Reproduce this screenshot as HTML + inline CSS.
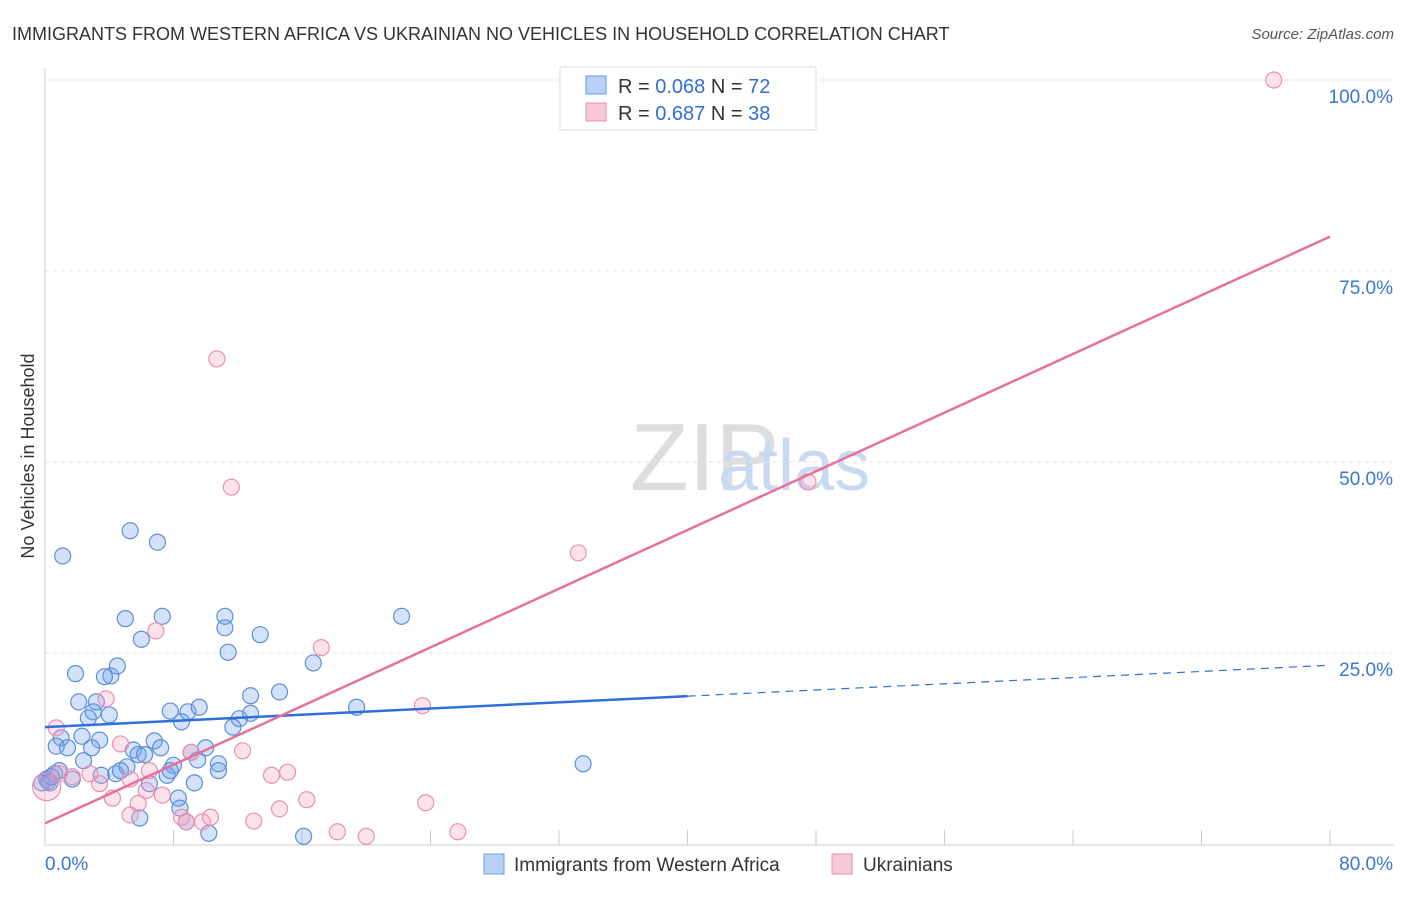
<!DOCTYPE html>
<html><head><meta charset="utf-8">
<style>
body{margin:0;background:#fff;font-family:"Liberation Sans",sans-serif;}
svg text{font-family:"Liberation Sans",sans-serif;}
</style></head>
<body>
<svg id="chart" width="1406" height="892" viewBox="0 0 1406 892">
<text x="12" y="40" font-size="18" fill="#333">IMMIGRANTS FROM WESTERN AFRICA VS UKRAINIAN NO VEHICLES IN HOUSEHOLD CORRELATION CHART</text>
<text x="1394" y="39" font-size="15" fill="#555" font-style="italic" text-anchor="end">Source: ZipAtlas.com</text>
<text x="630" y="490" font-size="96" fill="#ddd" font-family="Liberation Serif">ZIP</text>
<text x="718" y="490" font-size="72" fill="#c8daf2">atlas</text>
<g id="grid"></g>
<g id="axes"></g>
<g id="pts"></g>
<g id="lines"></g>
<text transform="translate(34,456) rotate(-90)" font-size="18" fill="#333" text-anchor="middle">No Vehicles in Household</text>
<g>
<rect x="560" y="67" width="256" height="63" fill="#fff" stroke="#ddd"/>
<rect x="586" y="76" width="20" height="18" fill="#b8d2f5" stroke="#6b9be0"/>
<rect x="586" y="103" width="20" height="18" fill="#f9c8d8" stroke="#e890b0"/>
<text x="618" y="93" font-size="20" fill="#333">R = <tspan fill="#2f6fd6">0.068</tspan>   N = <tspan fill="#2f6fd6">72</tspan></text>
<text x="618" y="120" font-size="20" fill="#333">R =  <tspan fill="#2f6fd6">0.687</tspan>   N = <tspan fill="#2f6fd6">38</tspan></text>
</g>
<g>
<rect x="484" y="854" width="20" height="20" fill="#b8d2f5" stroke="#6b9be0"/>
<text x="514" y="871" font-size="19" fill="#333">Immigrants from Western Africa</text>
<rect x="832" y="854" width="20" height="20" fill="#f9c8d8" stroke="#e890b0"/>
<text x="863" y="871" font-size="19" fill="#333">Ukrainians</text>
</g>
</svg>
<script>
const yTicks=[25,50,75,100];
const yTickLabels=["25.0%","50.0%","75.0%","100.0%"];
const xTickLabels=["0.0%","80.0%"];
const blueX=[1.1,5.3,7.0,5.0,7.3,11.2,11.2,22.2,6.0,13.4,11.4,16.7,1.9,4.5,4.1,3.7,2.1,3.2,3.0,2.7,4.0,7.8,8.9,9.6,8.5,12.8,14.6,12.1,12.8,11.7,19.4,1.0,0.7,1.4,2.3,3.4,2.9,5.5,6.8,7.2,5.8,6.2,9.1,10.0,2.4,5.1,8.0,9.5,10.8,10.8,33.5,0.6,0.1,0.3,1.7,3.5,4.4,7.6,6.5,9.3,8.3,8.4,8.8,10.2,5.9,16.1,0.9,7.8,0.2,4.7,0.4,-0.2];
const blueY=[37.7,41.0,39.5,29.5,29.8,29.8,28.3,29.8,26.8,27.4,25.1,23.7,22.3,23.3,22.0,21.9,18.6,18.6,17.3,16.5,16.9,17.4,17.3,17.9,16.0,19.4,19.9,16.4,17.1,15.3,17.9,13.9,12.8,12.6,14.1,13.6,12.6,12.3,13.5,12.6,11.7,11.7,12.0,12.6,10.9,10.1,10.3,11.0,10.5,9.6,10.5,9.2,8.5,8.0,8.5,9.0,9.2,9.0,7.9,8.0,6.0,4.7,2.9,1.4,3.4,1.0,9.6,9.6,8.2,9.6,8.8,8.0];
const pinkX=[76.5,10.7,11.6,47.5,33.2,6.9,17.2,3.8,23.5,0.7,4.7,9.1,12.3,0.9,1.7,2.8,3.4,4.2,5.3,6.3,7.3,5.8,5.3,8.5,8.8,9.8,10.3,13.0,14.1,15.1,14.6,16.3,18.2,20.0,23.7,25.7,0.1,6.5];
const pinkY=[100,63.5,46.7,47.4,38.1,27.9,25.7,19.0,18.1,15.2,13.1,12.0,12.2,9.2,8.8,9.2,7.9,6.0,8.5,7.0,6.4,5.3,3.8,3.5,2.9,2.9,3.5,3.0,9.0,9.4,4.6,5.8,1.6,1.0,5.4,1.6,7.5,9.6];
const blueSize=blueX.map(()=>8), pinkSize=pinkX.map((v,i)=>i===36?14:8);
const blueLine=[15.3,23.4], pinkLine=[2.7,79.5];
const X=v=>45+v/80*1285, Y=v=>844-v*7.64;
const NS="http://www.w3.org/2000/svg";
function mk(tag,attrs,parent){const e=document.createElementNS(NS,tag);for(const k in attrs)e.setAttribute(k,attrs[k]);document.getElementById(parent).appendChild(e);return e;}
yTicks.forEach((t,i)=>{
 const g=mk('line',{x1:45,x2:1394,y1:Y(t),y2:Y(t),stroke:'#e2e2e2','stroke-dasharray':'4,4'},'grid');
 
 
 const l=mk('text',{x:1393,y:Y(t)+23,'font-size':19,fill:'#3a75d8','text-anchor':'end'},'grid');
 l.textContent=yTickLabels[i];
 
 
});
const ax=mk('line',{x1:45,x2:45,y1:68,y2:845,stroke:'#ccc'},'axes');


const bx=mk('line',{x1:45,x2:1394,y1:845,y2:845,stroke:'#ccc'},'axes');


for(let i=0;i<=10;i++){
 const t=mk('line',{x1:X(i*8),x2:X(i*8),y1:830,y2:845,stroke:'#ccc'},'axes');
 
 
}
[[0,'start',45],[80,'end',1393]].forEach((d,i)=>{
 const l=mk('text',{x:d[2],y:870,'font-size':19,fill:'#3a75d8','text-anchor':d[1]},'axes');
 l.textContent=xTickLabels[i];
 
 
});
blueX.forEach((v,i)=>{
 const c=mk('circle',{cx:X(v),cy:Y(blueY[i]),r:blueSize[i],fill:'rgba(110,160,235,0.3)',stroke:'#5b8fd9','stroke-width':1.2},'pts');
 
 
});
pinkX.forEach((v,i)=>{
 const c=mk('circle',{cx:X(v),cy:Y(pinkY[i]),r:pinkSize[i],fill:'rgba(245,160,190,0.3)',stroke:'#e890b0','stroke-width':1.2},'pts');
 
 
});
const bAt=x=>blueLine[0]+(blueLine[1]-blueLine[0])*x/80;
const b1=mk('line',{x1:X(0),y1:Y(bAt(0)),x2:X(40),y2:Y(bAt(40)),stroke:'#2f6fd6','stroke-width':2.5},'lines');


const b2=mk('line',{x1:X(40),y1:Y(bAt(40)),x2:X(80),y2:Y(bAt(80)),stroke:'#2f6fd6','stroke-width':1.2,'stroke-dasharray':'8,6'},'lines');


const p1=mk('line',{x1:X(0),y1:Y(pinkLine[0]),x2:X(80),y2:Y(pinkLine[1]),stroke:'#e8709a','stroke-width':2.5},'lines');


</script>
</body></html>
